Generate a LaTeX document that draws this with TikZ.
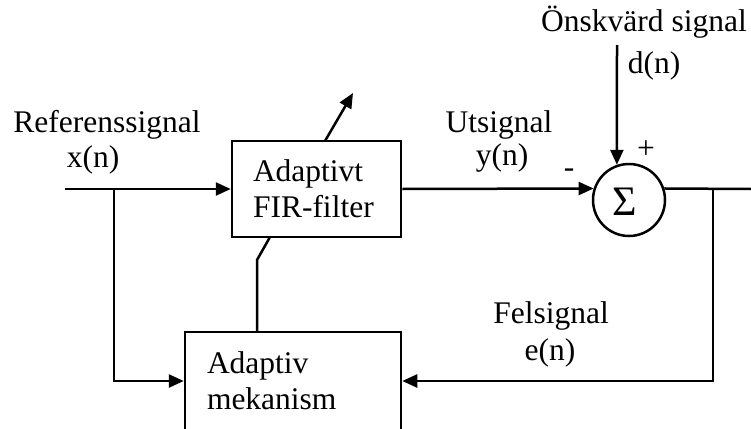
\documentclass[tikz,border=0pt]{standalone}
\usepackage{fontspec}
\setmainfont{Liberation Serif}
\usetikzlibrary{arrows.meta}
\begin{document}
\begin{tikzpicture}[x=1pt,y=-1pt,line width=2.5pt,
  >={Triangle[length=15pt,width=13pt]},
  every node/.style={font=\fontsize{31.5}{36}\selectfont},
  blk/.style={draw,rectangle,align=left,inner ysep=0pt},
  lbl/.style={anchor=base,inner sep=0pt}]
\useasboundingbox (0,0) rectangle (751,428);
% blocks
\node[blk,text width=127pt,inner xsep=21pt,minimum height=96pt] (fir) at (316.5,189) {Adaptivt\\FIR-filter};
\node[blk,text width=172pt,inner xsep=22pt,minimum height=98pt] (mek) at (293,381) {Adaptiv\\mekanism};
\node[draw,circle,minimum size=72pt,inner sep=0pt] (sum) at (629,200) {};
\node[inner sep=0pt,font=\fontsize{42}{42}\selectfont] (sig) at (625,202) {Σ};
% coordinates
\coordinate (in) at (65,189);
\coordinate (br) at (114,189);
\coordinate (out) at (751,189);
\coordinate (fb) at (713,189);
\coordinate (dtop) at (617,45);
\coordinate (a1) at (325,141);
\coordinate (a2) at (353,93);
\coordinate (b1) at (270,237);
\coordinate (b2) at (257,260);
\coordinate (b3) at (257,332);
% connectors
\draw[->] (in) -- (fir.west);
\draw[->] (br) |- (mek.west);
\draw[->] (fir.east) -- (sum.162);
\draw (sum.18) -- (out);
\draw[->] (fb) |- (mek.east);
\draw[->] (dtop) -- (sum.109.5);
\draw[->] (a1) -- (a2);
\draw (b1) -- (b2) -- (b3);
% labels
\node[lbl] (l1) at (107,132) {Referenssignal};
\node[lbl] (l2) at (93,167) {x(n)};
\node[lbl] (l3) at (644,32) {Önskvärd signal};
\node[lbl] (l4) at (654,73) {d(n)};
\node[lbl] (l5) at (499,132) {Utsignal};
\node[lbl] (l6) at (502,165) {y(n)};
\node[lbl] (l7) at (551,323) {Felsignal};
\node[lbl] (l8) at (550,360) {e(n)};
\node[inner sep=0pt] (plus) at (646,150) {+};
\node[inner sep=0pt] (minus) at (569,173) {-};
\end{tikzpicture}
\end{document}
